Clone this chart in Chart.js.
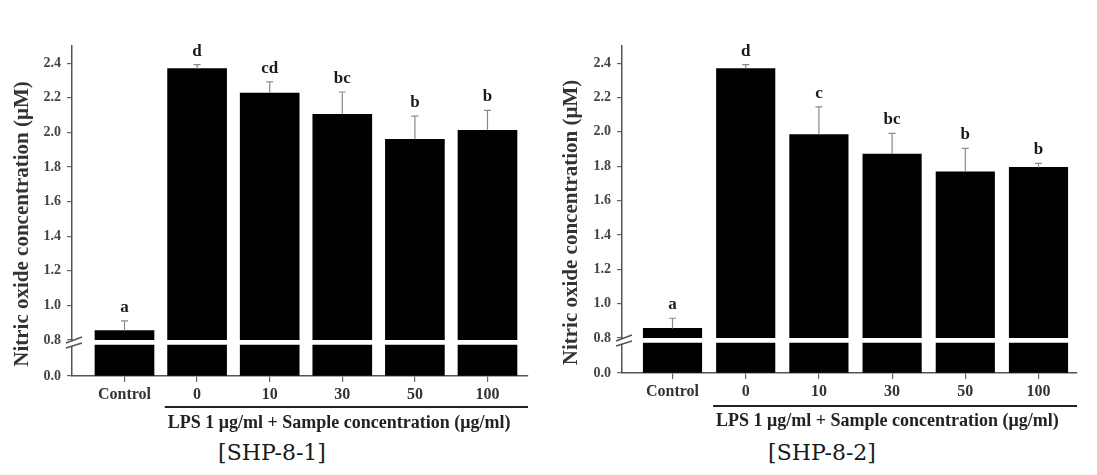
<!DOCTYPE html>
<html>
<head>
<meta charset="utf-8">
<script src="https://cdn.jsdelivr.net/npm/chart.js@4.4.1/dist/chart.umd.min.js"></script>
<style>
  html, body { margin: 0; padding: 0; background: #fff; }
  #wrap { position: relative; width: 1097px; height: 475px; overflow: hidden; }
  canvas { position: absolute; top: 0; }
  .plabel { position: absolute; top: 440px; font-family: "DejaVu Serif", serif; font-size: 22px; color: #1a1a1a; transform: translateX(-50%); white-space: nowrap; }
</style>
</head>
<body>
<div id="wrap">
  <canvas id="c1" width="548" height="440" style="left:0px"></canvas>
  <canvas id="c2" width="549" height="440" style="left:548px"></canvas>
  <div class="plabel" id="l1" style="left:272px"></div>
  <div class="plabel" id="l2" style="left:822px"></div>
</div>
<script>
// ---- data ----
const categories = ['Control', '0', '10', '30', '50', '100'];
const means1 = [0.854, 2.369, 2.228, 2.105, 1.961, 2.013];
const errors1 = [0.057, 0.023, 0.064, 0.129, 0.133, 0.115];
const letters1 = ['a', 'd', 'cd', 'bc', 'b', 'b'];
const means2 = [0.856, 2.369, 1.985, 1.871, 1.768, 1.793];
const errors2 = [0.059, 0.023, 0.161, 0.120, 0.136, 0.024];
const letters2 = ['a', 'd', 'c', 'bc', 'b', 'b'];
const upperTicks = [0.8, 1.0, 1.2, 1.4, 1.6, 1.8, 2.0, 2.2, 2.4];
const lowerTicks = [0.0];
const breakValue = 0.8;
const yTitle = 'Nitric oxide concentration (\u03BCM)';
const xCaption = 'LPS 1 \u03BCg/ml + Sample concentration (\u03BCg/ml)';
const panelLabels = ['[SHP-8-1]', '[SHP-8-2]'];

document.getElementById('l1').textContent = panelLabels[0];
document.getElementById('l2').textContent = panelLabels[1];

const SERIF = '"Liberation Serif", "Times New Roman", serif';

function makePanel(canvasId, means, errors, letters, g) {
  const annot = {
    id: 'annot',
    afterDatasetsDraw(chart) {
      const ctx = chart.ctx;
      const xs = chart.scales.x, yt = chart.scales.yTop;
      const ca = chart.chartArea;
      ctx.save();
      // error bars + letters
      for (let i = 0; i < means.length; i++) {
        const px = xs.getPixelForValue(i);
        const y0 = yt.getPixelForValue(means[i]);
        const y1 = yt.getPixelForValue(means[i] + errors[i]);
        ctx.strokeStyle = '#8a8a8a';
        ctx.lineWidth = 1.2;
        ctx.beginPath();
        ctx.moveTo(px, y0); ctx.lineTo(px, y1);
        ctx.moveTo(px - 3.5, y1); ctx.lineTo(px + 3.5, y1);
        ctx.stroke();
        ctx.fillStyle = '#1a1a1a';
        ctx.font = 'bold 17px ' + SERIF;
        ctx.textAlign = 'center';
        ctx.textBaseline = 'alphabetic';
        ctx.fillText(letters[i], px, y1 - 9);
      }
      // axis break marks
      const bx = ca.left, by = yt.bottom;
      ctx.fillStyle = '#fff';
      ctx.beginPath();
      ctx.moveTo(bx - 6, by + 3); ctx.lineTo(bx + 10, by - 3);
      ctx.lineTo(bx + 10, by + 3); ctx.lineTo(bx - 6, by + 8);
      ctx.closePath(); ctx.fill();
      ctx.strokeStyle = '#555';
      ctx.lineWidth = 1.5;
      ctx.beginPath();
      ctx.moveTo(bx - 6, by + 3); ctx.lineTo(bx + 10, by - 3);
      ctx.moveTo(bx - 6, by + 8); ctx.lineTo(bx + 10, by + 3);
      ctx.stroke();
      // y title
      ctx.save();
      ctx.translate(ca.left - g.titleDx, (ca.top + ca.bottom) / 2 + 13);
      ctx.rotate(-Math.PI / 2);
      ctx.fillStyle = '#333';
      ctx.font = 'bold 21px ' + SERIF;
      ctx.textAlign = 'center';
      ctx.textBaseline = 'middle';
      ctx.fillText(yTitle, 0, 0);
      ctx.restore();
      // underline + caption
      const ux0 = xs.getPixelForValue(0.5) + 4;
      const ux1 = ca.right;
      const uy = ca.bottom + g.underDy;
      ctx.strokeStyle = '#222';
      ctx.lineWidth = 2;
      ctx.beginPath(); ctx.moveTo(ux0, uy); ctx.lineTo(ux1, uy); ctx.stroke();
      ctx.fillStyle = '#222';
      ctx.font = 'bold 18px ' + SERIF;
      ctx.textAlign = 'left';
      ctx.textBaseline = 'alphabetic';
      ctx.fillText(xCaption, ux0 + 3, ca.bottom + g.capDy);
      ctx.restore();
    }
  };

  const yTickOpts = {
    callback: v => v.toFixed(1),
    font: { family: SERIF, weight: 'bold', size: 14 },
    color: '#444',
    padding: 6
  };
  const yGrid = { drawOnChartArea: false, drawTicks: true, tickLength: 5, color: '#666', lineWidth: 1.2 };
  const yBorder = { display: true, color: '#555', width: 1.5 };

  return new Chart(document.getElementById(canvasId), {
    type: 'bar',
    data: {
      datasets: [
        {
          label: 'upper',
          yAxisID: 'yTop',
          data: means.map((v, i) => ({ x: i, y: v })),
          backgroundColor: '#000',
          borderWidth: 0,
          grouped: false,
          barThickness: g.barW
        },
        {
          label: 'lower',
          yAxisID: 'yBot',
          data: means.map((v, i) => ({ x: i, y: Math.min(v, breakValue) })),
          backgroundColor: '#000',
          borderWidth: 0,
          grouped: false,
          barThickness: g.barW
        }
      ]
    },
    options: {
      responsive: false,
      animation: false,
      events: [],
      layout: { padding: { top: g.top, left: 0, right: g.right, bottom: 0 } },
      plugins: { legend: { display: false }, tooltip: { enabled: false } },
      scales: {
        x: {
          type: 'linear',
          position: 'bottom',
          offset: false,
          min: g.xMin, max: g.xMax,
          afterBuildTicks: s => { s.ticks = categories.map((c, i) => ({ value: i })); },
          afterFit: s => { s.height = g.xH; },
          ticks: {
            callback: v => categories[v],
            font: { family: SERIF, weight: 'bold', size: 16 },
            color: '#333',
            padding: 3,
            maxRotation: 0,
            autoSkip: false
          },
          grid: { offset: false, drawOnChartArea: false, drawTicks: true, tickLength: 6, color: '#666', lineWidth: 1.2 },
          border: { display: true, color: '#555', width: 1.5 }
        },
        yBot: {
          type: 'linear',
          position: 'left',
          stack: 'ys',
          stackWeight: g.wBot,
          min: 0, max: g.lowMax,
          afterBuildTicks: s => { s.ticks = lowerTicks.map(v => ({ value: v })); },
          afterFit: s => { s.width = g.axisX; },
          ticks: yTickOpts,
          grid: yGrid,
          border: yBorder
        },
        yTop: {
          type: 'linear',
          position: 'left',
          stack: 'ys',
          stackWeight: g.wTop,
          min: 0.8, max: 2.5,
          afterBuildTicks: s => { s.ticks = upperTicks.map(v => ({ value: v })); },
          afterFit: s => { s.width = g.axisX; },
          ticks: yTickOpts,
          grid: yGrid,
          border: yBorder
        }
      }
    },
    plugins: [annot]
  });
}

makePanel('c1', means1, errors1, letters1, {
  top: 46, right: 20, axisX: 72, xH: 64, xMin: -0.723, xMax: 5.558, barW: 59,
  wTop: 294, wBot: 36, lowMax: 0.929, titleDx: 49, underDy: 31, capDy: 52
});
makePanel('c2', means2, errors2, letters2, {
  top: 46, right: 20, axisX: 74, xH: 67, xMin: -0.690, xMax: 5.526, barW: 58.5,
  wTop: 292, wBot: 35, lowMax: 0.933, titleDx: 50, underDy: 33, capDy: 53
});
</script>
</body>
</html>
